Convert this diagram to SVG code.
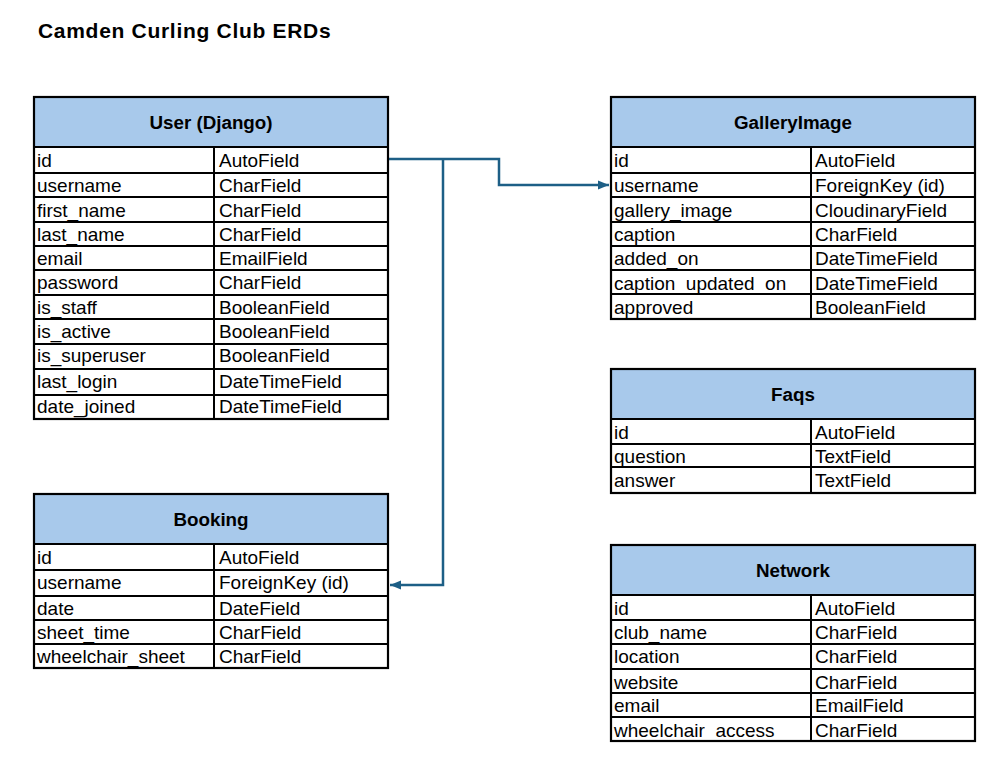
<svg xmlns="http://www.w3.org/2000/svg" width="1008" height="766" viewBox="0 0 1008 766">
<style>
  .bg { fill: #ffffff; }
  .hdr { fill: #A8C9EB; stroke: #000; stroke-width: 2; }
  .box { fill: none; stroke: #000; stroke-width: 2.2; }
  .ln { stroke: #000; stroke-width: 2; }
  .t { font-family: "Liberation Sans", Arial, sans-serif; font-size: 19px; fill: #000; }
  .h { font-family: "Liberation Sans", Arial, sans-serif; font-size: 18.8px; font-weight: bold; fill: #000; text-anchor: middle; }
  .title { font-family: "Liberation Sans", Arial, sans-serif; font-size: 21px; font-weight: bold; fill: #000; letter-spacing: 0.7px; }
  .conn { fill: none; stroke: #1D5F86; stroke-width: 2.5; }
</style>
<defs>
  <marker id="arr" markerUnits="userSpaceOnUse" markerWidth="12" markerHeight="12" viewBox="0 0 12 12" refX="11" refY="6" orient="auto">
    <path d="M0,1.5 L11,6 L0,10.5 Z" fill="#1D5F86"/>
  </marker>
</defs>
<rect class="bg" x="0" y="0" width="1008" height="766"/>
<text class="title" x="38" y="38">Camden Curling Club ERDs</text>

<g id="connectors">
  <path class="conn" d="M389,159 H499 V185 H609" marker-end="url(#arr)"/>
  <path class="conn" d="M443,159 V585 H390" marker-end="url(#arr)"/>
</g>

<g id="user">
  <rect class="hdr" x="34" y="97" width="354" height="50"/>
  <text class="h" x="211" y="129">User (Django)</text>
  <line class="ln" x1="34" y1="173" x2="388" y2="173"/>
  <line class="ln" x1="34" y1="197" x2="388" y2="197"/>
  <line class="ln" x1="34" y1="222" x2="388" y2="222"/>
  <line class="ln" x1="34" y1="246" x2="388" y2="246"/>
  <line class="ln" x1="34" y1="270" x2="388" y2="270"/>
  <line class="ln" x1="34" y1="295" x2="388" y2="295"/>
  <line class="ln" x1="34" y1="319" x2="388" y2="319"/>
  <line class="ln" x1="34" y1="344" x2="388" y2="344"/>
  <line class="ln" x1="34" y1="369" x2="388" y2="369"/>
  <line class="ln" x1="34" y1="395" x2="388" y2="395"/>
  <line class="ln" x1="214" y1="147" x2="214" y2="419"/>
  <rect class="box" x="34" y="97" width="354" height="322"/>
  <text class="t" x="37" y="167">id</text><text class="t" x="219" y="167">AutoField</text>
  <text class="t" x="37" y="192">username</text><text class="t" x="219" y="192">CharField</text>
  <text class="t" x="37" y="217">first_name</text><text class="t" x="219" y="217">CharField</text>
  <text class="t" x="37" y="241">last_name</text><text class="t" x="219" y="241">CharField</text>
  <text class="t" x="37" y="265">email</text><text class="t" x="219" y="265">EmailField</text>
  <text class="t" x="37" y="289">password</text><text class="t" x="219" y="289">CharField</text>
  <text class="t" x="37" y="314">is_staff</text><text class="t" x="219" y="314">BooleanField</text>
  <text class="t" x="37" y="338">is_active</text><text class="t" x="219" y="338">BooleanField</text>
  <text class="t" x="37" y="362">is_superuser</text><text class="t" x="219" y="362">BooleanField</text>
  <text class="t" x="37" y="388">last_login</text><text class="t" x="219" y="388">DateTimeField</text>
  <text class="t" x="37" y="413">date_joined</text><text class="t" x="219" y="413">DateTimeField</text>
</g>

<g id="booking">
  <rect class="hdr" x="34" y="494" width="354" height="50"/>
  <text class="h" x="211" y="526">Booking</text>
  <line class="ln" x1="34" y1="570" x2="388" y2="570"/>
  <line class="ln" x1="34" y1="596" x2="388" y2="596"/>
  <line class="ln" x1="34" y1="620" x2="388" y2="620"/>
  <line class="ln" x1="34" y1="644" x2="388" y2="644"/>
  <line class="ln" x1="214" y1="544" x2="214" y2="668"/>
  <rect class="box" x="34" y="494" width="354" height="174"/>
  <text class="t" x="37" y="564">id</text><text class="t" x="219" y="564">AutoField</text>
  <text class="t" x="37" y="589">username</text><text class="t" x="219" y="589">ForeignKey (id)</text>
  <text class="t" x="37" y="615">date</text><text class="t" x="219" y="615">DateField</text>
  <text class="t" x="37" y="639">sheet_time</text><text class="t" x="219" y="639">CharField</text>
  <text class="t" x="37" y="663">wheelchair_sheet</text><text class="t" x="219" y="663">CharField</text>
</g>

<g id="galleryimage">
  <rect class="hdr" x="611" y="97" width="364" height="50"/>
  <text class="h" x="793" y="129">GalleryImage</text>
  <line class="ln" x1="611" y1="173" x2="975" y2="173"/>
  <line class="ln" x1="611" y1="197" x2="975" y2="197"/>
  <line class="ln" x1="611" y1="222" x2="975" y2="222"/>
  <line class="ln" x1="611" y1="246" x2="975" y2="246"/>
  <line class="ln" x1="611" y1="270" x2="975" y2="270"/>
  <line class="ln" x1="611" y1="294" x2="975" y2="294"/>
  <line class="ln" x1="811" y1="147" x2="811" y2="319"/>
  <rect class="box" x="611" y="97" width="364" height="222"/>
  <text class="t" x="614" y="167">id</text><text class="t" x="815" y="167">AutoField</text>
  <text class="t" x="614" y="192">username</text><text class="t" x="815" y="192">ForeignKey (id)</text>
  <text class="t" x="614" y="217">gallery_image</text><text class="t" x="815" y="217">CloudinaryField</text>
  <text class="t" x="614" y="241">caption</text><text class="t" x="815" y="241">CharField</text>
  <text class="t" x="614" y="265">added_on</text><text class="t" x="815" y="265">DateTimeField</text>
  <text class="t" x="614" y="290">caption_updated_on</text><text class="t" x="815" y="290">DateTimeField</text>
  <text class="t" x="614" y="314">approved</text><text class="t" x="815" y="314">BooleanField</text>
</g>

<g id="faqs">
  <rect class="hdr" x="611" y="369" width="364" height="50"/>
  <text class="h" x="793" y="401">Faqs</text>
  <line class="ln" x1="611" y1="444" x2="975" y2="444"/>
  <line class="ln" x1="611" y1="467" x2="975" y2="467"/>
  <line class="ln" x1="811" y1="419" x2="811" y2="493"/>
  <rect class="box" x="611" y="369" width="364" height="124"/>
  <text class="t" x="614" y="439">id</text><text class="t" x="815" y="439">AutoField</text>
  <text class="t" x="614" y="463">question</text><text class="t" x="815" y="463">TextField</text>
  <text class="t" x="614" y="487">answer</text><text class="t" x="815" y="487">TextField</text>
</g>

<g id="network">
  <rect class="hdr" x="611" y="545" width="364" height="50"/>
  <text class="h" x="793" y="577">Network</text>
  <line class="ln" x1="611" y1="620" x2="975" y2="620"/>
  <line class="ln" x1="611" y1="644" x2="975" y2="644"/>
  <line class="ln" x1="611" y1="669" x2="975" y2="669"/>
  <line class="ln" x1="611" y1="693" x2="975" y2="693"/>
  <line class="ln" x1="611" y1="717" x2="975" y2="717"/>
  <line class="ln" x1="811" y1="595" x2="811" y2="741"/>
  <rect class="box" x="611" y="545" width="364" height="196"/>
  <text class="t" x="614" y="615">id</text><text class="t" x="815" y="615">AutoField</text>
  <text class="t" x="614" y="639">club_name</text><text class="t" x="815" y="639">CharField</text>
  <text class="t" x="614" y="663">location</text><text class="t" x="815" y="663">CharField</text>
  <text class="t" x="614" y="689">website</text><text class="t" x="815" y="689">CharField</text>
  <text class="t" x="614" y="712">email</text><text class="t" x="815" y="712">EmailField</text>
  <text class="t" x="614" y="737">wheelchair_access</text><text class="t" x="815" y="737">CharField</text>
</g>
</svg>
